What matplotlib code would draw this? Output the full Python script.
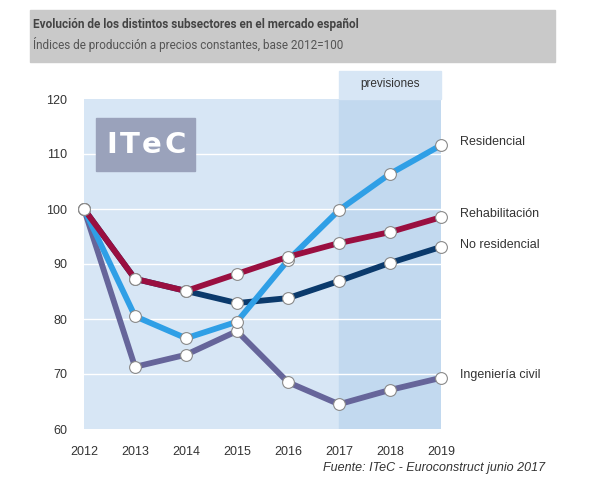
import matplotlib.pyplot as plt
from matplotlib.patches import Rectangle
import matplotlib.transforms as mtransforms

plt.rcParams['font.family'] = ['Liberation Sans', 'DejaVu Sans']

# Data
years = [2012, 2013, 2014, 2015, 2016, 2017, 2018, 2019]
residencial = [100, 80.5, 76.5, 79.5, 90.7, 99.8, 106.4, 111.6]
rehabilitacion = [100, 87.3, 85.1, 88.2, 91.3, 93.8, 95.8, 98.5]
no_residencial = [100, 87.3, 85.1, 82.9, 83.8, 86.9, 90.2, 93.1]
ing_civil = [100, 71.3, 73.5, 77.8, 68.5, 64.5, 67.1, 69.3]
series_names = ['Ingeniería civil', 'No residencial', 'Residencial', 'Rehabilitación']
series_vals = [ing_civil, no_residencial, residencial, rehabilitacion]
colors = ['#66659a', '#0b3a6c', '#2f9fe6', '#9a0f40']
label_y = [69.8, 93.5, 112.2, 99.1]

fig = plt.figure(figsize=(6, 4.84), dpi=100)
ax = fig.add_axes([84/600, 1-429/484, (441-84)/600, (429-99)/484])

ax.set_facecolor('#d7e6f5')
ax.axvspan(2017, 2019, color='#c2d9ef', zorder=0)
for y in [70, 80, 90, 100, 110]:
    ax.axhline(y, color='white', lw=1, zorder=1)

for name, vals, c, ly in zip(series_names, series_vals, colors, label_y):
    ax.plot(years, vals, color=c, lw=4.2, marker='o', ms=8.5, mfc='white',
            mec='#8a8a8a', mew=0.8, solid_joinstyle='round', zorder=3, clip_on=False)
    ax.text(2019.38, ly, name, fontsize=9, color='#333333', va='center', ha='left')

ax.set_xlim(2012, 2019)
ax.set_ylim(60, 120)
ax.set_xticks(years)
ax.set_yticks([60, 70, 80, 90, 100, 110, 120])
ax.tick_params(length=0, labelsize=9, labelcolor='#333333')
ax.tick_params(axis='x', pad=12)
ax.tick_params(axis='y', pad=12)
for s in ax.spines.values():
    s.set_visible(False)

# previsiones label box above the forecast area
trans = mtransforms.blended_transform_factory(ax.transData, ax.transAxes)
ax.add_patch(Rectangle((2017, 1.0), 2, 28/330, transform=trans, color='#d7e6f5',
                       clip_on=False, zorder=0))
ax.text(2018, 1 + 15/330, 'previsiones', transform=trans, ha='center', va='center',
        fontsize=8.5, color='#333333')

# ITeC logo
fig.patches.append(Rectangle((96/600, 1-171/484), 99/600, 53/484, transform=fig.transFigure,
                             color='#9aa2bb', zorder=2))
for ch, px in zip('ITeC', [112, 130, 152, 175]):
    fig.text(px/600, 1-145/484, ch, ha='center', va='center', color='white',
             fontsize=21, fontweight='bold', family='DejaVu Sans', zorder=3)

# header
fig.patches.append(Rectangle((30/600, 1-62/484), 525/600, 52/484, transform=fig.transFigure,
                             color='#c9c9c9', zorder=0))
fig.text(33/600, 1-24/484, 'Evolución de los distintos subsectores en el mercado español',
         fontsize=8.5, fontweight='bold', color='#444444', va='center', family='Roboto')
fig.text(33/600, 1-45/484, 'Índices de producción a precios constantes, base 2012=100',
         fontsize=8.5, color='#555555', va='center', family='Roboto')

fig.text(545/600, 1-468/484, 'Fuente: ITeC - Euroconstruct junio 2017', ha='right',
         va='center', fontsize=9, style='italic', color='#333333')

plt.savefig('out.png', dpi=100)
